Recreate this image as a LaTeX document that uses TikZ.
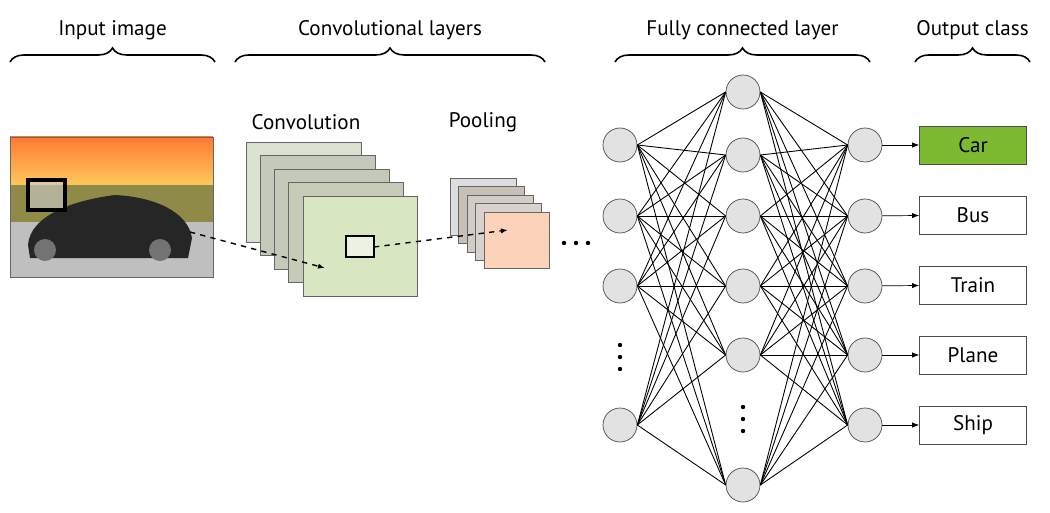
\documentclass[tikz,border=0pt]{standalone}
\usepackage{fontspec}
\setmainfont{PT Sans}
\usetikzlibrary{arrows.meta,positioning,decorations.pathreplacing}
\definecolor{neuron}{HTML}{E2E2E2}
\definecolor{cargreen}{HTML}{7DBA32}
\definecolor{sheetfront}{HTML}{D8E6C2}
\definecolor{poolfront}{HTML}{FBD3B8}
\tikzset{
  neuron/.style={circle,draw=black!70,fill=neuron,minimum size=34*0.02cm,inner sep=0pt},
  outbox/.style={draw=black!70,minimum width=107*0.02cm,minimum height=38*0.02cm,font=\large},
  brace/.style={decorate,decoration={brace,amplitude=8pt},line width=0.9pt},
  head/.style={font=\large},
  link/.style={line width=0.5pt},
  dot/.style={fill=black,radius=2.2},
}
\begin{document}
\begin{tikzpicture}[x=0.02cm,y=-0.02cm]
\useasboundingbox (0,0) rectangle (1050,513);

% headers
\draw[brace] (10,62) -- (215,62) node[midway,above=9pt,head] {Input image};
\draw[brace] (235,62) -- (545,62) node[midway,above=9pt,head] {Convolutional layers};
\draw[brace] (615,62) -- (870,62) node[midway,above=9pt,head] {Fully connected layer};
\draw[brace] (915,62) -- (1030,62) node[midway,above=9pt,head] {Output class};

% input image
\shade[top color=orange!70!red!80,bottom color=orange!40!yellow!60] (10,137) rectangle (213,200);
\fill[olive!50!gray] (10,185) rectangle (213,222);
\fill[gray!50] (10,222) rectangle (213,277);
\fill[black!85] (28,245) .. controls (30,215) and (75,200) .. (115,195)
  .. controls (155,197) and (188,212) .. (192,238) -- (188,258) -- (30,258) -- cycle;
\fill[black!55] (45,250) circle (11) (160,250) circle (11);
\draw[black!60] (10,137) rectangle (213,277);
\draw[line width=2pt,fill=white!60!gray,fill opacity=0.6] (28,180) rectangle (65,210);
\coordinate (imgsrc) at (190,232);

% convolution sheets
\foreach \i/\c in {0/gray!25!sheetfront!60,1/gray!45!sheetfront!75,2/gray!40!sheetfront!80,3/gray!35!sheetfront!85}
  \draw[black!60,fill=\c] (246+14*\i,142+13.5*\i) rectangle ++(115,100);
\draw[black!60,fill=sheetfront] (303,196) rectangle (417,296);
\node[head] at (306,122) {Convolution};
\draw[line width=1.5pt,fill=sheetfront!50!white] (346,236) rectangle (374,257);
\coordinate (convin) at (325,268);
\coordinate (convsrc) at (374,247);

% pooling sheets
\foreach \i/\c in {0/blue!5!gray!25,1/brown!30!gray!50,2/brown!25!gray!40,3/brown!20!gray!35}
  \draw[black!60,fill=\c] (450+8.5*\i,178+8.5*\i) rectangle ++(66,57);
\draw[black!60,fill=poolfront] (484,212) rectangle (549,268);
\node[head] at (483,122) {Pooling};
\coordinate (poolin) at (508,230);

\draw[dashed,line width=0.8pt,-{Latex[length=4pt]}] (imgsrc) -- (convin);
\draw[dashed,line width=0.8pt,-{Latex[length=4pt]}] (convsrc) -- (poolin);
\foreach \x in {564,576,588} \fill (\x,243) circle[dot];

% fully connected layer
\foreach \y [count=\n] in {145,216,286,425} \node[neuron] (a\n) at (620,\y) {};
\foreach \y [count=\n] in {92,155,216,286,355,485} \node[neuron] (b\n) at (743,\y) {};
\foreach \y [count=\n] in {145,216,286,355,425} \node[neuron] (c\n) at (865,\y) {};
\foreach \y in {345,357,369} \fill (620,\y) circle[dot];
\foreach \y in {407,419,431} \fill (743,\y) circle[dot];

\foreach \i in {1,...,4} \foreach \j in {1,...,6} \draw[link] (a\i.east) -- (b\j.west);
\foreach \i in {1,...,6} \foreach \j in {1,...,5} \draw[link] (b\i.east) -- (c\j.west);

% output classes
\foreach \t [count=\n] in {Car,Bus,Train,Plane,Ship} {
  \node[outbox] (o\n) at (973,145+70*\n-70) {\t};
  \draw[-{Latex[length=4pt]}] (c\n) -- (o\n);
}
\node[outbox,fill=cargreen] at (o1) {Car};
\end{tikzpicture}
\end{document}
